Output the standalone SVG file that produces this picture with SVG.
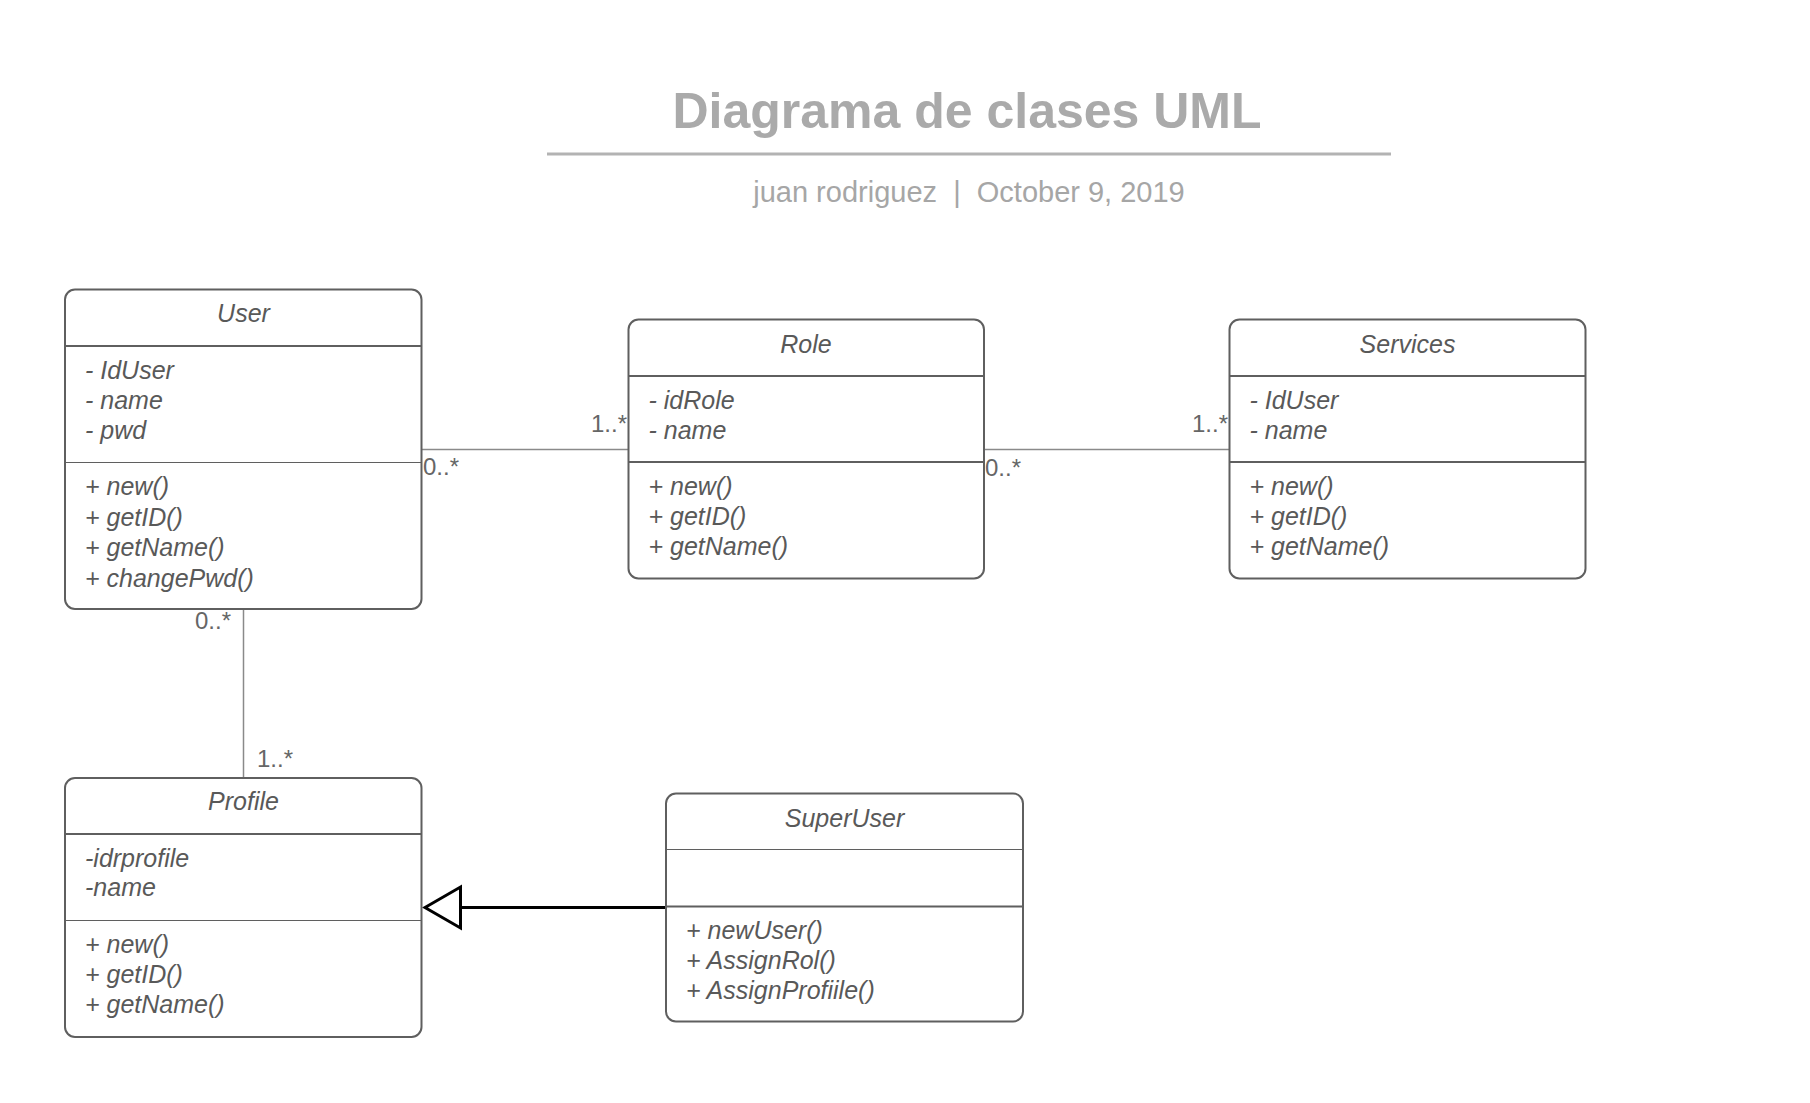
<svg xmlns="http://www.w3.org/2000/svg" width="1810" height="1103" viewBox="0 0 1810 1103">
<style>
.box{fill:#ffffff;stroke:#5f5f5f;stroke-width:2}
.thick{stroke:#5f5f5f;stroke-width:2}
.thin{stroke:#5f5f5f;stroke-width:1.2}
.t{font-family:"Liberation Sans",Arial,sans-serif;font-style:italic;font-size:25px;fill:#595959}
.h{text-anchor:middle}
.lbl{font-family:"Liberation Sans",Arial,sans-serif;font-size:24px;fill:#666666}
.assoc{stroke:#8a8a8a;stroke-width:1.5;fill:none}
.gen{stroke:#000000;stroke-width:3;fill:none}
</style>
<rect width="1810" height="1103" fill="#ffffff"/>
<g id="header">
<text x="967" y="128" text-anchor="middle" font-family="Liberation Sans, Arial, sans-serif" font-weight="bold" font-size="50" fill="#aaaaaa">Diagrama de clases UML</text>
<line x1="547" y1="154" x2="1391" y2="154" stroke="#b3b3b3" stroke-width="3"/>
<text x="969" y="202" text-anchor="middle" font-family="Liberation Sans, Arial, sans-serif" font-size="29" fill="#a6a6a6" xml:space="preserve">juan rodriguez  |  October 9, 2019</text>
</g>
<g id="connectors">
<line class="assoc" x1="422" y1="449.5" x2="628" y2="449.5"/>
<line class="assoc" x1="984" y1="449.5" x2="1229" y2="449.5"/>
<line class="assoc" x1="243.5" y1="609" x2="243.5" y2="778"/>
<line class="gen" x1="460" y1="907.5" x2="666" y2="907.5"/>
<polygon points="425,907.5 460.5,887 460.5,928" fill="#ffffff" stroke="#000000" stroke-width="3" stroke-linejoin="miter"/>
<text class="lbl" x="423" y="475">0..*</text>
<text class="lbl" x="627" y="432" text-anchor="end">1..*</text>
<text class="lbl" x="985" y="476">0..*</text>
<text class="lbl" x="1228" y="432" text-anchor="end">1..*</text>
<text class="lbl" x="231" y="629" text-anchor="end">0..*</text>
<text class="lbl" x="257" y="767">1..*</text>
</g>
<g id="User">
<rect class="box" x="65" y="289.5" width="356.5" height="319.5" rx="10"/>
<line class="thick" x1="65" y1="346" x2="421.5" y2="346"/>
<line class="thin" x1="65" y1="462.5" x2="421.5" y2="462.5"/>
<text class="t h" x="243.5" y="322">User</text>
<text class="t" x="85" y="379">- IdUser</text>
<text class="t" x="85" y="409">- name</text>
<text class="t" x="85" y="439">- pwd</text>
<text class="t" x="85" y="495">+ new()</text>
<text class="t" x="85" y="525.5">+ getID()</text>
<text class="t" x="85" y="556">+ getName()</text>
<text class="t" x="85" y="586.5">+ changePwd()</text>
</g>
<g id="Role">
<rect class="box" x="628.5" y="319.5" width="355.5" height="259" rx="10"/>
<line class="thick" x1="628.5" y1="376" x2="984" y2="376"/>
<line class="thick" x1="628.5" y1="462" x2="984" y2="462"/>
<text class="t h" x="806" y="352.5">Role</text>
<text class="t" x="648.5" y="408.5">- idRole</text>
<text class="t" x="648.5" y="438.5">- name</text>
<text class="t" x="648.5" y="495">+ new()</text>
<text class="t" x="648.5" y="525">+ getID()</text>
<text class="t" x="648.5" y="555">+ getName()</text>
</g>
<g id="Services">
<rect class="box" x="1229.5" y="319.5" width="356" height="259" rx="10"/>
<line class="thick" x1="1229.5" y1="376" x2="1585.5" y2="376"/>
<line class="thick" x1="1229.5" y1="462" x2="1585.5" y2="462"/>
<text class="t h" x="1407.5" y="352.5">Services</text>
<text class="t" x="1249.5" y="408.5">- IdUser</text>
<text class="t" x="1249.5" y="438.5">- name</text>
<text class="t" x="1249.5" y="495">+ new()</text>
<text class="t" x="1249.5" y="525">+ getID()</text>
<text class="t" x="1249.5" y="555">+ getName()</text>
</g>
<g id="Profile">
<rect class="box" x="65" y="778" width="356.5" height="259" rx="10"/>
<line class="thick" x1="65" y1="834" x2="421.5" y2="834"/>
<line class="thin" x1="65" y1="920.5" x2="421.5" y2="920.5"/>
<text class="t h" x="243.5" y="810">Profile</text>
<text class="t" x="85" y="867">-idrprofile</text>
<text class="t" x="85" y="896">-name</text>
<text class="t" x="85" y="952.5">+ new()</text>
<text class="t" x="85" y="982.5">+ getID()</text>
<text class="t" x="85" y="1012.5">+ getName()</text>
</g>
<g id="SuperUser">
<rect class="box" x="666" y="793.5" width="357" height="228" rx="10"/>
<line class="thin" x1="666" y1="849.5" x2="1023" y2="849.5"/>
<line class="thick" x1="666" y1="906.5" x2="1023" y2="906.5"/>
<text class="t h" x="844.5" y="827">SuperUser</text>
<text class="t" x="686" y="938.5">+ newUser()</text>
<text class="t" x="686" y="968.5">+ AssignRol()</text>
<text class="t" x="686" y="998.5">+ AssignProfiile()</text>
</g>
</svg>
